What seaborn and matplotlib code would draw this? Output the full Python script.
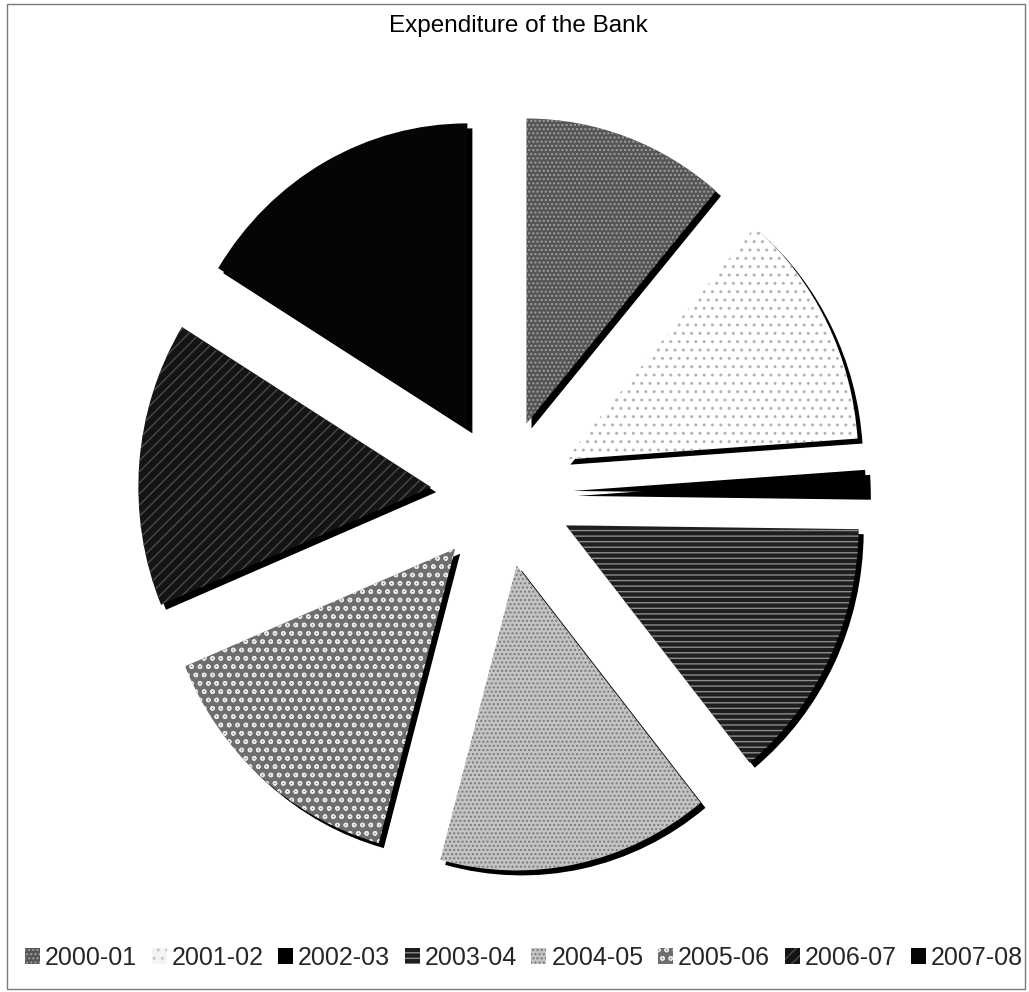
import matplotlib
matplotlib.use("Agg")
import matplotlib.pyplot as plt
from matplotlib.patches import Patch, Rectangle
import seaborn as sns

# Share of total expenditure per financial year (%)
years = ["2000-01", "2001-02", "2002-03", "2003-04",
         "2004-05", "2005-06", "2006-07", "2007-08"]
shares = [11.2, 12.7, 1.3, 14.0, 15.0, 14.5, 15.1, 16.2]

# Grayscale fills with textured hatching for each year
face_colors = ["#555555", "#ffffff", "#000000", "#1e1e1e",
               "#c4c4c4", "#6e6e6e", "#141414", "#050505"]
hatch_colors = ["#a0a0a0", "#b4b4b4", "#000000", "#8c8c8c",
                "#7a7a7a", "#e6e6e6", "#4a4a4a", "#050505"]
hatches = ["....", "..", "", "---", "....", "oo", "///", ""]

sns.set_theme(style="white")
plt.rcParams["font.family"] = ["Liberation Sans", "DejaVu Sans"]
plt.rcParams["hatch.linewidth"] = 1.0

W, H = 1029, 992
fig = plt.figure(figsize=(W / 100, H / 100), dpi=100)
fig.patch.set_facecolor("white")
ax = fig.add_axes([0, 0, 1, 1])

# the printed pie is slightly narrower than it is tall
sx = 0.96
cx, cy = 502 / sx, H - 493
R = 305
explode = [74] * len(years)  # pie offsets are in data units

# drop shadow under every slice
ax.pie(shares, explode=explode, startangle=90, counterclock=False,
       radius=R, center=(cx + 5 / sx, cy - 5), colors=["black"] * len(years),
       wedgeprops=dict(linewidth=0))

wedges, _ = ax.pie(shares, explode=explode, startangle=90, counterclock=False,
                   radius=R, center=(cx, cy), colors=face_colors,
                   wedgeprops=dict(linewidth=0))
for w, h, hc in zip(wedges, hatches, hatch_colors):
    w.set_hatch(h)
    w.set_edgecolor(hc)
    w.set_linewidth(0)

ax.set_aspect("auto")
ax.set_xlim(0, W / sx)
ax.set_ylim(0, H)
ax.axis("off")

fig.text(518 / W, 1 - 32 / H, "Expenditure of the Bank", ha="center",
         va="baseline", fontsize=17.5, color="black")

handles = [Patch(facecolor=fc, edgecolor=hc, hatch=h, linewidth=0)
           for fc, hc, h in zip(face_colors, hatch_colors, hatches)]
handles[1] = Patch(facecolor="#f4f4f4", edgecolor="#c8c8c8", hatch="..", linewidth=0)
fig.legend(handles, years, loc="center", bbox_to_anchor=(524 / W, 34 / H),
           ncol=len(years), frameon=False, fontsize=18,
           handlelength=0.6, handleheight=0.6, handletextpad=0.2,
           columnspacing=0.58, borderpad=0, borderaxespad=0)

# thin outer chart border
fig.patches.append(Rectangle((7 / W, 1 - 989 / H), (1025 - 7) / W, (989 - 4) / H,
                             transform=fig.transFigure, fill=False,
                             edgecolor="#7a7a7a", linewidth=1.0))

fig.savefig("out.png", dpi=100, facecolor="white")
